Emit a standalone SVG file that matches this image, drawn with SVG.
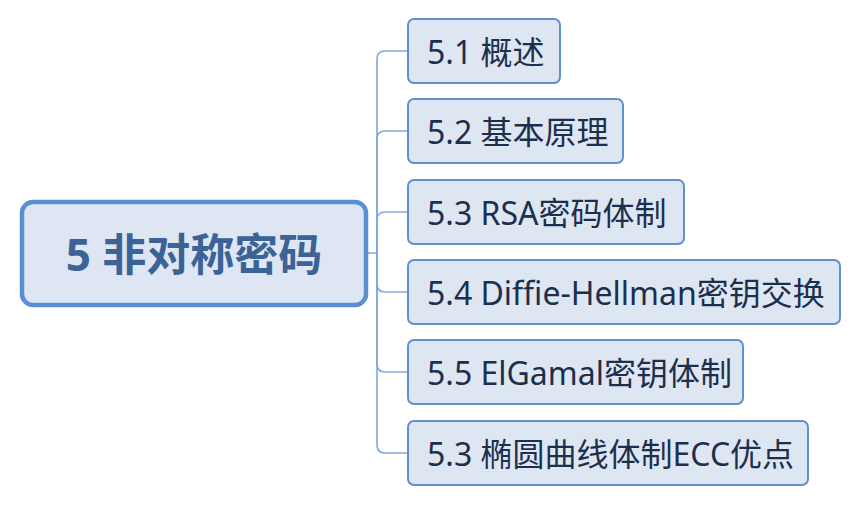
<svg xmlns="http://www.w3.org/2000/svg" width="864" height="506" viewBox="0 0 864 506">
  <style>
    .root rect { fill: #dde6f2; stroke: #5b8fd4; stroke-width: 4.5; }
    .root text { font-family: "Noto Sans", "Noto Sans CJK SC", sans-serif; font-size: 44px; font-weight: bold; fill: #3b6396; }
    .child rect { fill: #dee6f2; stroke: #5f90cf; stroke-width: 2; }
    .child text { font-family: "Noto Sans", "Noto Sans CJK SC", sans-serif; font-size: 32px; fill: #1c2f4d; }
    .conn path { fill: none; stroke: #82a8d8; stroke-width: 1.6; }
  </style>
  <rect width="864" height="506" fill="#ffffff"/>
  <g id="connectors" class="conn">
    <path d="M366,253 H377 V59 Q377,51 385,51 H408"/>
    <path d="M377,253 V139 Q377,131 385,131 H408"/>
    <path d="M377,253 V220 Q377,212 385,212 H408"/>
    <path d="M377,253 V284 Q377,292 385,292 H408"/>
    <path d="M377,253 V364 Q377,372 385,372 H408"/>
    <path d="M377,253 V445 Q377,453 385,453 H408"/>
  </g>
  <g id="root" class="root">
    <rect x="22" y="202" width="344" height="103" rx="11"/>
    <text x="194" y="271" text-anchor="middle">5 非对称密码</text>
  </g>
  <g id="n51" class="child">
    <rect x="408" y="19" width="152" height="64" rx="6"/>
    <text x="427" y="64">5.1 概述</text>
  </g>
  <g id="n52" class="child">
    <rect x="408" y="99" width="215" height="64" rx="6"/>
    <text x="427" y="144">5.2 基本原理</text>
  </g>
  <g id="n53" class="child">
    <rect x="408" y="180" width="276" height="64" rx="6"/>
    <text x="427" y="225">5.3 RSA密码体制</text>
  </g>
  <g id="n54" class="child">
    <rect x="408" y="260" width="432" height="64" rx="6"/>
    <text x="427" y="305">5.4 Diffie-Hellman密钥交换</text>
  </g>
  <g id="n55" class="child">
    <rect x="408" y="340" width="335" height="64" rx="6"/>
    <text x="427" y="385">5.5 ElGamal密钥体制</text>
  </g>
  <g id="n56" class="child">
    <rect x="408" y="421" width="400" height="64" rx="6"/>
    <text x="427" y="466">5.3 椭圆曲线体制ECC优点</text>
  </g>
</svg>
